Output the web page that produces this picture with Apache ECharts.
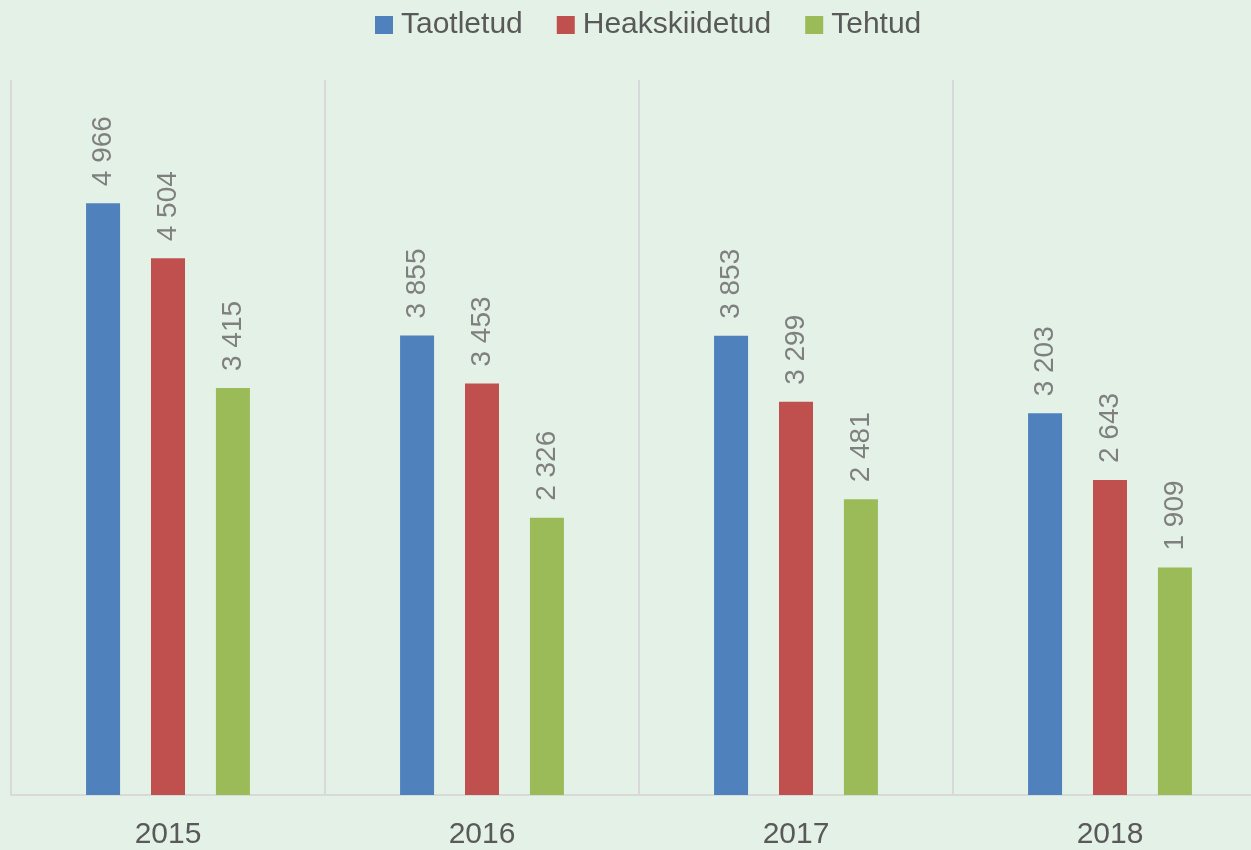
<!DOCTYPE html>
<html lang="et">
<head>
    <meta charset="utf-8" />
    <title>Taotletud, heakskiidetud ja tehtud</title>
    <script src="https://cdn.jsdelivr.net/npm/echarts@6/dist/echarts.min.js"></script>
    <style>
        html, body { margin: 0; padding: 0; background: #E4F1E6; }
        #chart { width: 1251px; height: 850px; }
    </style>
</head>
<body>
<div id="chart"></div>
<script>
// andmed
var years = ['2015', '2016', '2017', '2018'];
var taotletud = [4966, 3855, 3853, 3203];
var heakskiidetud = [4504, 3453, 3299, 2643];
var tehtud = [3415, 2326, 2481, 1909];

var seriesNames = ['Taotletud', 'Heakskiidetud', 'Tehtud'];
var seriesColors = ['#4F81BD', '#C0504D', '#9BBB59'];
var seriesData = [taotletud, heakskiidetud, tehtud];

// arvud kujul "4 966"
function spaced(v) {
    return String(v).replace(/\B(?=(\d{3})+(?!\d))/g, ' ');
}

var my_chart = echarts.init(document.getElementById('chart'));

var series = seriesNames.map(function (name, i) {
    return {
        name: name,
        type: 'bar',
        data: seriesData[i],
        barWidth: 34,
        barGap: '91%',
        itemStyle: { color: seriesColors[i] },
        label: {
            show: true,
            position: 'top',
            rotate: 90,
            align: 'left',
            verticalAlign: 'middle',
            distance: 17,
            color: '#7F7F7F',
            fontFamily: 'Liberation Sans',
            fontSize: 28,
            formatter: function (p) { return spaced(p.value); }
        }
    };
});

my_chart.setOption({
    backgroundColor: '#E4F1E6',
    animation: false,
    legend: {
        data: seriesNames,
        top: 5,
        left: 370,
        itemWidth: 18,
        itemHeight: 18,
        itemGap: 34,
        icon: 'rect',
        textStyle: {
            color: '#595959',
            fontFamily: 'Liberation Sans',
            fontSize: 30,
            padding: [0, 0, 0, 3]
        }
    },
    // ruudustik ulatub paremalt pildist välja nagu originaalis
    grid: {
        left: 11,
        width: 1256,
        top: 80,
        bottom: 55,
        outerBoundsMode: 'none'
    },
    xAxis: {
        type: 'category',
        data: years,
        axisLine: { lineStyle: { color: '#D9D9D9', width: 2 } },
        axisTick: { show: false },
        axisLabel: {
            color: '#595959',
            fontFamily: 'Liberation Sans',
            fontSize: 30,
            margin: 25
        },
        splitLine: {
            show: true,
            interval: 0,
            lineStyle: { color: '#D9D9D9', width: 2 }
        }
    },
    yAxis: {
        type: 'value',
        min: 0,
        max: 6000,
        show: false,
        splitLine: { show: false }
    },
    series: series
});
</script>
</body>
</html>
